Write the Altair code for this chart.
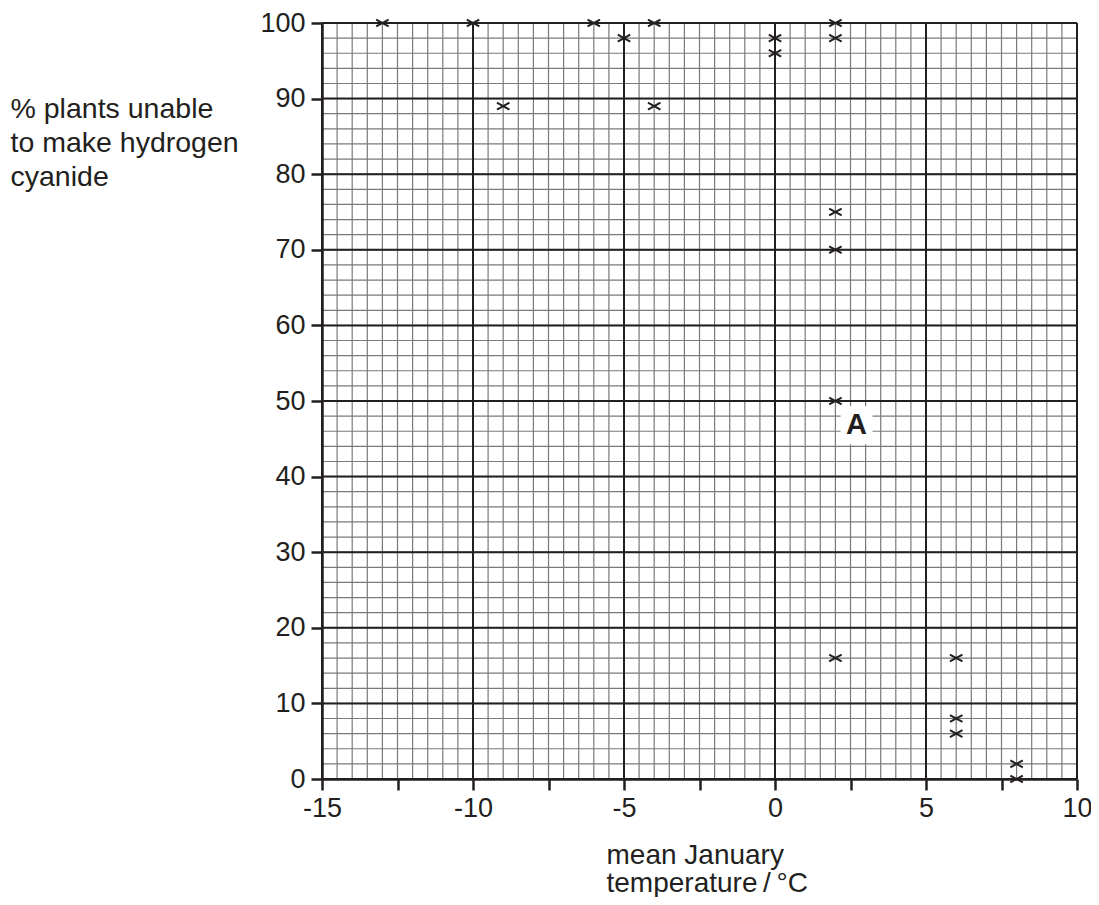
import altair as alt
import numpy as np
import pandas as pd

# data points
temps = [-13, -10, -9, -6, -5, -4, -4, 0, 0, 2, 2, 2, 2, 2, 2, 6, 6, 6, 8, 8]
pct = [100, 100, 89, 100, 98, 100, 89, 98, 96, 100, 98, 75, 70, 50, 16, 16, 8, 6, 2, 0]

# label
label_text = ["A"]
label_x = [2.7]
label_y = [46.8]

# tick values
x_ticks = [-15, -12.5, -10, -7.5, -5, -2.5, 0, 2.5, 5, 7.5, 10]
y_ticks = [0, 10, 20, 30, 40, 50, 60, 70, 80, 90, 100]

# grid lines
minor_x = list(np.arange(-15, 10.001, 0.5))
minor_y = list(np.arange(0, 100.001, 2))
major_x = [-15, -10, -5, 0, 5, 10]
major_y = [0, 10, 20, 30, 40, 50, 60, 70, 80, 90, 100]

FONT = "Liberation Sans"

xscale = alt.Scale(domain=[-15, 10], nice=False, zero=False)
yscale = alt.Scale(domain=[0, 100], nice=False, zero=False)

pts = pd.DataFrame({"t": temps, "p": pct})
lab = pd.DataFrame({"t": label_x, "p": label_y, "txt": label_text})

x_axis = alt.Axis(
    values=x_ticks,
    labelExpr="datum.value % 5 === 0 ? toString(datum.value) : ''",
    labelFont=FONT, labelFontSize=27, labelColor="#231f20",
    labelPadding=5, labelFlush=False, labelOverlap=False,
    tickSize=11, tickWidth=2.5, tickColor="#231f20",
    domainWidth=2.5, domainColor="#231f20", grid=False, zindex=1,
    title=["mean January", "temperature\u2009/\u2009°C"],
    titleFont=FONT, titleFontSize=28, titleFontWeight="normal", titleColor="#231f20",
    titleAngle=0, titleAlign="left", titleBaseline="alphabetic",
    titleX=284, titleY=84, titleLineHeight=28,
)
y_axis = alt.Axis(
    values=y_ticks,
    labelFont=FONT, labelFontSize=27, labelColor="#231f20",
    labelPadding=6, labelFlush=False, labelOverlap=False,
    tickSize=11, tickWidth=2.5, tickColor="#231f20",
    domainWidth=2.5, domainColor="#231f20", grid=False, zindex=1,
    title=["% plants unable", "to make hydrogen", "cyanide"],
    titleFont=FONT, titleFontSize=28.5, titleFontWeight="normal", titleColor="#231f20",
    titleAngle=0, titleAlign="left", titleBaseline="alphabetic",
    titleX=-312, titleY=94, titleLineHeight=34,
)


def X(f):
    return alt.X(f, type="quantitative", scale=xscale, axis=x_axis)


def Y(f):
    return alt.Y(f, type="quantitative", scale=yscale, axis=y_axis)


minor_v = alt.Chart(pd.DataFrame({"v": minor_x})).mark_rule(
    color="#7a7a7a", strokeWidth=1.2
).encode(x=X("v"))
minor_h = alt.Chart(pd.DataFrame({"v": minor_y})).mark_rule(
    color="#7a7a7a", strokeWidth=1.2
).encode(y=Y("v"))
major_v = alt.Chart(pd.DataFrame({"v": major_x})).mark_rule(
    color="#231f20", strokeWidth=2
).encode(x=X("v"))
major_h = alt.Chart(pd.DataFrame({"v": major_y})).mark_rule(
    color="#231f20", strokeWidth=2
).encode(y=Y("v"))

points = alt.Chart(pts).mark_point(
    shape="M-1,-0.55L1,0.55M-1,0.55L1,-0.55",
    size=156, filled=False, stroke="#231f20", strokeWidth=2, opacity=1,
).encode(x=X("t"), y=Y("p"))

box = alt.Chart(lab).mark_point(
    shape="M-0.84,-1L0.84,-1L0.84,1L-0.84,1Z",
    size=1444, filled=True, fill="white", strokeWidth=0, opacity=1,
).encode(x=X("t"), y=Y("p"))

text = alt.Chart(lab).mark_text(
    font=FONT, fontSize=29, fontWeight="bold", color="#231f20",
    align="center", baseline="middle",
).encode(x=X("t"), y=Y("p"), text="txt:N")

chart = alt.layer(minor_v, minor_h, major_v, major_h, points, box, text).properties(
    width=755, height=756,
    autosize=alt.AutoSizeParams(type="none"),
    padding={"left": 314, "top": 15, "right": 14, "bottom": 118},
).configure_view(stroke=None).configure(background="white")

chart.save("out.html", embed_options={"renderer": "svg", "actions": False})
